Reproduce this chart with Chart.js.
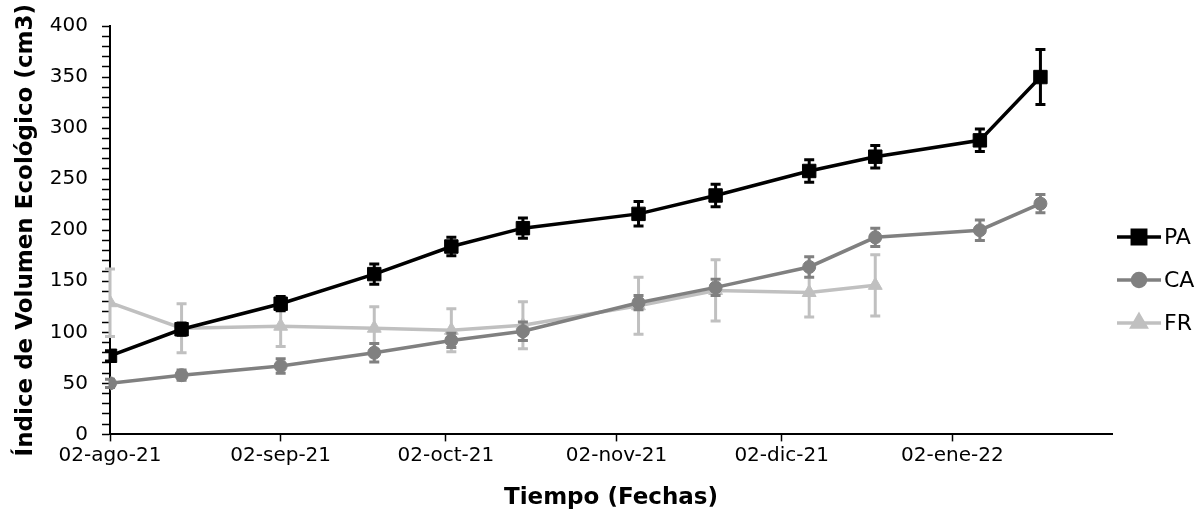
<!DOCTYPE html>
<html>
<head>
<meta charset="utf-8">
<script src="https://cdn.jsdelivr.net/npm/chart.js@4.4.0/dist/chart.umd.min.js"></script>
<style>
  html, body { margin: 0; padding: 0; background: #fff; }
  #contenedor { width: 1195px; height: 516px; }
</style>
</head>
<body>
<div id="contenedor"><canvas id="grafico"></canvas></div>
<script>
  // Fechas de muestreo
  const fechas = ['2021-08-02','2021-08-15','2021-09-02','2021-09-19','2021-10-03','2021-10-16',
                  '2021-11-06','2021-11-20','2021-12-07','2021-12-19','2022-01-07','2022-01-18'];

  // Series (promedio y error)
  const PA = [77, 103, 128, 157, 184, 202, 216, 234, 258, 272, 288, 350];
  const erroresPA = [5, 6, 7, 10, 9, 10, 12, 11, 11, 11, 11, 27];
  const CA = [50, 58, 67, 80, 92, 101, 129, 144, 164, 193, 200, 226];
  const erroresCA = [4, 5, 7, 9, 7, 9, 7, 8, 10, 9, 10, 9];
  const FR = [129, 104, 106, 104, 102, 107, 126, 141, 139, 146];
  const erroresFR = [33, 24, 20, 21, 21, 23, 28, 30, 24, 30];

  // Eje X
  const fechasTicks = ['2021-08-02','2021-09-02','2021-10-02','2021-11-02','2021-12-02','2022-01-02'];
  const etiquetasTicks = ['02-ago-21','02-sep-21','02-oct-21','02-nov-21','02-dic-21','02-ene-22'];
  const fechaFinal = '2022-01-31';

  // días desde la primera fecha
  function dias(f) {
    return (Date.parse(f) - Date.parse(fechas[0])) / 86400000;
  }

  function puntos(valores) {
    return valores.map((v, i) => ({ x: dias(fechas[i]), y: v }));
  }

  Chart.defaults.font.family = "'DejaVu Sans', sans-serif";
  Chart.defaults.color = '#000';

  // Barras de error, dibujadas antes de cada serie
  const barrasError = {
    id: 'barrasError',
    beforeDatasetDraw(chart, args) {
      const ds = chart.data.datasets[args.index];
      const escalaY = chart.scales.y;
      const ctx = chart.ctx;
      ctx.save();
      ctx.strokeStyle = ds.borderColor;
      ctx.lineWidth = 3;
      args.meta.data.forEach((pt, i) => {
        const v = ds.data[i].y;
        const e = ds.errores[i];
        const y1 = escalaY.getPixelForValue(v + e);
        const y2 = escalaY.getPixelForValue(v - e);
        ctx.beginPath();
        ctx.moveTo(pt.x, y1); ctx.lineTo(pt.x, y2);
        ctx.moveTo(pt.x - 5, y1); ctx.lineTo(pt.x + 5, y1);
        ctx.moveTo(pt.x - 5, y2); ctx.lineTo(pt.x + 5, y2);
        ctx.stroke();
      });
      ctx.restore();
    }
  };

  // Leyenda a la derecha (línea + marcador)
  const leyenda = {
    id: 'leyenda',
    afterDraw(chart) {
      const ctx = chart.ctx;
      const x0 = chart.chartArea.right + 5;
      ctx.save();
      chart.data.datasets.forEach((ds, i) => {
        const y = 237 + i * 43;
        ctx.strokeStyle = ds.borderColor;
        ctx.lineWidth = ds.borderWidth;
        ctx.beginPath();
        ctx.moveTo(x0, y); ctx.lineTo(x0 + 44, y);
        ctx.stroke();
        ctx.fillStyle = ds.backgroundColor;
        Chart.helpers.drawPoint(ctx, {
          pointStyle: ds.pointStyle,
          radius: ds.pointRadius,
          borderWidth: 1,
          rotation: 0
        }, x0 + 22, y);
        ctx.fillStyle = '#000';
        ctx.font = "22px 'DejaVu Sans', sans-serif";
        ctx.textBaseline = 'middle';
        ctx.fillText(ds.label, x0 + 47, y + 1);
      });
      ctx.restore();
    }
  };

  const ctx = document.getElementById('grafico').getContext('2d');
  new Chart(ctx, {
    type: 'line',
    data: {
      datasets: [
        {
          label: 'PA',
          data: puntos(PA),
          errores: erroresPA,
          borderColor: '#000000',
          backgroundColor: '#000000',
          borderWidth: 3.5,
          pointStyle: 'rect',
          pointRadius: 9.5,
          pointBorderWidth: 1
        },
        {
          label: 'CA',
          data: puntos(CA),
          errores: erroresCA,
          borderColor: '#808080',
          backgroundColor: '#808080',
          borderWidth: 3.5,
          pointStyle: 'circle',
          pointRadius: 6.5,
          pointBorderWidth: 1
        },
        {
          label: 'FR',
          data: puntos(FR),
          errores: erroresFR,
          borderColor: '#c0c0c0',
          backgroundColor: '#c0c0c0',
          borderWidth: 3.5,
          pointStyle: 'triangle',
          pointRadius: 8,
          pointBorderWidth: 1
        }
      ]
    },
    options: {
      responsive: true,
      maintainAspectRatio: false,
      animation: false,
      layout: { padding: { left: 12, right: 83, top: 20, bottom: 2 } },
      plugins: {
        legend: { display: false },
        tooltip: { enabled: false }
      },
      scales: {
        x: {
          type: 'linear',
          min: 0,
          max: dias(fechaFinal),
          afterBuildTicks: (escala) => {
            escala.ticks = fechasTicks.map(f => ({ value: dias(f) }));
          },
          ticks: {
            autoSkip: false,
            maxRotation: 0,
            padding: 2,
            font: { size: 20 },
            callback: (v, i) => etiquetasTicks[i]
          },
          grid: { drawOnChartArea: false, tickLength: 7, tickColor: '#000', tickWidth: 1.5 },
          border: { color: '#000', width: 2 },
          title: {
            display: true,
            text: 'Tiempo (Fechas)',
            font: { size: 23, weight: 'bold' },
            padding: { top: 15, bottom: 2 }
          }
        },
        y: {
          min: 0,
          max: 400,
          afterFit: (escala) => { escala.width = 98; },
          ticks: {
            stepSize: 10,
            autoSkip: false,
            padding: 14,
            font: { size: 20 },
            callback: (v) => (v % 50 === 0 ? v : '')
          },
          grid: { drawOnChartArea: false, tickLength: 8, tickColor: '#000', tickWidth: 1.5 },
          border: { color: '#000', width: 2 },
          title: {
            display: true,
            text: 'Índice de Volumen Ecológico (cm3)',
            font: { size: 23, weight: 'bold' },
            padding: { top: 0, bottom: 10 }
          }
        }
      }
    },
    plugins: [barrasError, leyenda]
  });
</script>
</body>
</html>
